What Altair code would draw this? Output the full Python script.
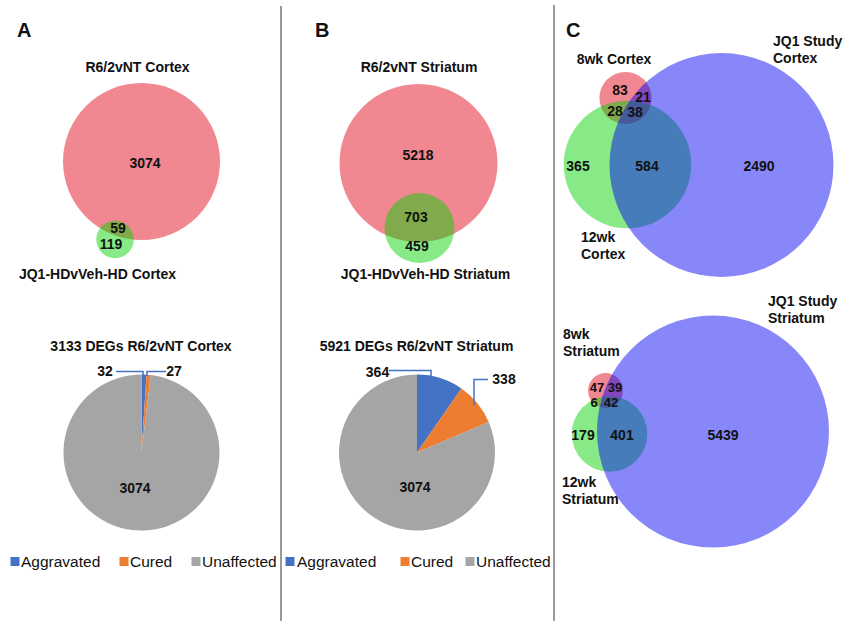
import altair as alt
import pandas as pd

# ---------------- data ----------------
# Two-set Venn regions: [first set only, overlap, second set only]
venn_a_counts = [3074, 59, 119]
venn_b_counts = [5218, 703, 459]
venn_a_sets = ["R6/2vNT Cortex", "JQ1-HDvVeh-HD Cortex"]
venn_b_sets = ["R6/2vNT Striatum", "JQ1-HDvVeh-HD Striatum"]

# Three-set Venn regions, in this order:
# 8wk only, 8wk&JQ1, 8wk&12wk, all three, 12wk only, 12wk&JQ1, JQ1 only
venn_c_top_counts = [83, 21, 28, 38, 365, 584, 2490]
venn_c_bot_counts = [47, 39, 6, 42, 179, 401, 5439]

# Region membership of each set (indices into the region lists)
two_set_members = [[0, 1], [1, 2]]
three_set_members = [[0, 1, 2, 3], [2, 3, 4, 5], [1, 3, 5, 6]]

pie_categories = ["Aggravated", "Cured", "Unaffected"]
pie_cortex = [32, 27, 3074]
pie_striatum = [364, 338, 3074]
pie_titles = ["3133 DEGs R6/2vNT Cortex", "5921 DEGs R6/2vNT Striatum"]

# ---------------- styling / layout ----------------
W, H = 845, 621
FONT = "Liberation Sans"
SET_COLORS_2 = ["#e10014", "#00d200"]
SET_COLORS_3 = ["#e10014", "#00d200", "#0000f5"]
PIE_COLORS = ["#4472c4", "#ed7d31", "#a5a5a5"]
PIE_RADIUS = 78

xs = alt.Scale(domain=[0, W], nice=False, zero=False)
ys = alt.Scale(domain=[0, H], nice=False, zero=False, reverse=True)

# label_fs: font size of the region counts (crowded small circles get smaller text)
venn_layout = {
    "A": dict(centers=[(141.5, 161.5), (115, 239.5)], max_d=157,
              label_pos=[(145, 164), (118, 229), (111, 245)],
              label_fs=[14, 14, 14]),
    "B": dict(centers=[(418.5, 163), (419.5, 228)], max_d=158,
              label_pos=[(418, 156), (416, 218), (417, 247)],
              label_fs=[14, 14, 14]),
    "Ct": dict(centers=[(625.5, 98), (627.5, 164.5), (721.5, 165)], max_d=224,
               label_pos=[(620, 91), (643, 97.5), (615, 111.5), (635, 113),
                          (578, 166.5), (647, 167), (759, 167)],
               label_fs=[14, 14, 14, 14, 14, 14, 14]),
    "Cb": dict(centers=[(605.5, 390.5), (609.5, 434), (713, 431.5)], max_d=232,
               label_pos=[(597, 387.5), (615, 388), (594, 403), (611, 403),
                          (583, 435.5), (622, 435.5), (723, 435.5)],
               label_fs=[13, 13, 13, 13, 14, 14, 14]),
}


def set_totals(counts, members):
    return [sum(counts[i] for i in m) for m in members]


def venn_circles(key, counts, members, colors):
    lay = venn_layout[key]
    totals = set_totals(counts, members)
    df = pd.DataFrame({
        "total": totals,
        "cx": [c[0] for c in lay["centers"]],
        "cy": [c[1] for c in lay["centers"]],
        "col": colors,
        "k": list(range(len(totals))),
    })
    # circle area proportional to set size; largest set fills max_d
    size_scale = alt.Scale(domain=[0, max(totals)], range=[0, lay["max_d"] ** 2],
                           zero=True, nice=False)
    return alt.Chart(df).mark_circle(opacity=0.47).encode(
        x=alt.X("cx:Q", scale=xs, axis=None),
        y=alt.Y("cy:Q", scale=ys, axis=None),
        size=alt.Size("total:Q", scale=size_scale, legend=None),
        fill=alt.Fill("col:N", scale=None),
        order=alt.Order("k:Q"),
    )


layers = []

# separators between panels
sep_df = pd.DataFrame({"x": [281, 554], "y": [6, 5], "y2": [H, H]})
layers.append(alt.Chart(sep_df).mark_rule(color="#9a9a9a", strokeWidth=2).encode(
    x=alt.X("x:Q", scale=xs, axis=None),
    y=alt.Y("y:Q", scale=ys, axis=None),
    y2="y2:Q",
))

layers.append(venn_circles("A", venn_a_counts, two_set_members, SET_COLORS_2))
layers.append(venn_circles("B", venn_b_counts, two_set_members, SET_COLORS_2))
layers.append(venn_circles("Ct", venn_c_top_counts, three_set_members, SET_COLORS_3))
layers.append(venn_circles("Cb", venn_c_bot_counts, three_set_members, SET_COLORS_3))

# pies
pie_centers = [(141.5, 452.5), (417, 452.5)]
pie_rows = []
for p, vals in enumerate([pie_cortex, pie_striatum]):
    for k, (cat, v) in enumerate(zip(pie_categories, vals)):
        pie_rows.append(dict(pie=p, cat=cat, value=v, k=k, col=PIE_COLORS[k],
                             cx=pie_centers[p][0], cy=pie_centers[p][1]))
pie_df = pd.DataFrame(pie_rows)
layers.append(
    alt.Chart(pie_df)
    .transform_joinaggregate(total="sum(value)", groupby=["pie"])
    .transform_window(cum="sum(value)", groupby=["pie"], sort=[alt.SortField("k")],
                      frame=[None, 0])
    .transform_calculate(t0="(datum.cum - datum.value) / datum.total",
                         t1="datum.cum / datum.total")
    .mark_arc(radius=PIE_RADIUS)
    .encode(
        x=alt.X("cx:Q", scale=xs, axis=None),
        y=alt.Y("cy:Q", scale=ys, axis=None),
        theta=alt.Theta("t0:Q", scale=alt.Scale(domain=[0, 1], range=[0, 6.283185307179586])),
        theta2="t1:Q",
        fill=alt.Fill("col:N", scale=None),
    )
)

# leader lines for the small slices
leaders = [
    [(116, 371.5), (143, 371.5), (143, 376)],
    [(147, 376), (147, 371.5), (166, 371.5)],
    [(389, 370.5), (431, 370.5), (431, 378)],
    [(488, 379.5), (474, 379.5), (474, 405)],
]
lead_rows = []
for i, pts in enumerate(leaders):
    for j, (x, y) in enumerate(pts):
        lead_rows.append(dict(id=i, j=j, x=x, y=y))
layers.append(alt.Chart(pd.DataFrame(lead_rows)).mark_line(
    color="#4472c4", strokeWidth=1.5).encode(
    x=alt.X("x:Q", scale=xs, axis=None),
    y=alt.Y("y:Q", scale=ys, axis=None),
    detail="id:N",
    order="j:Q",
))

# legend squares
leg_y = 561.5
legend_sq = [(15, 0), (124, 1), (196, 2), (290, 0), (405, 1), (470, 2)]
leg_df = pd.DataFrame({
    "x": [s[0] for s in legend_sq],
    "y": [leg_y] * len(legend_sq),
    "col": [PIE_COLORS[s[1]] for s in legend_sq],
})
layers.append(alt.Chart(leg_df).mark_square(opacity=1).encode(
    x=alt.X("x:Q", scale=xs, axis=None),
    y=alt.Y("y:Q", scale=ys, axis=None),
    fill=alt.Fill("col:N", scale=None),
    size=alt.value(81),
))

# ---------------- text ----------------
texts = []  # x, y, label, font size, align, weight


def add(x, y, t, fs=14, align="center", weight="bold"):
    texts.append(dict(x=x, y=y, label=t, fs=fs, align=align, weight=weight))


# panel letters
add(17, 30.5, "A", 20, "left")
add(315, 30.5, "B", 20, "left")
add(566, 30.5, "C", 20, "left")

# Venn set names
add(137.5, 67.5, venn_a_sets[0])
add(97.5, 275, venn_a_sets[1])
add(419, 67.5, venn_b_sets[0])
add(425.5, 275, venn_b_sets[1])
add(614, 60, "8wk Cortex")
add(773, 42, "JQ1 Study", align="left")
add(773, 58.5, "Cortex", align="left")
add(581, 238, "12wk", align="left")
add(581, 255, "Cortex", align="left")
add(768, 302, "JQ1 Study", align="left")
add(768, 318.5, "Striatum", align="left")
add(563, 335, "8wk", align="left")
add(563, 352, "Striatum", align="left")
add(562, 483, "12wk", align="left")
add(562, 499.5, "Striatum", align="left")

# Venn region counts
for key, counts in (("A", venn_a_counts), ("B", venn_b_counts),
                    ("Ct", venn_c_top_counts), ("Cb", venn_c_bot_counts)):
    lay = venn_layout[key]
    for (x, y), fs, c in zip(lay["label_pos"], lay["label_fs"], counts):
        add(x, y, str(c), fs)

# pie titles and values
add(141, 347, pie_titles[0])
add(416.5, 347, pie_titles[1])
add(105, 372, str(pie_cortex[0]))
add(174, 372, str(pie_cortex[1]))
add(135, 488.5, str(pie_cortex[2]))
add(377.5, 373, str(pie_striatum[0]))
add(504, 379.5, str(pie_striatum[1]))
add(415, 487.5, str(pie_striatum[2]))

# legend labels
leg_text_x = [21, 130, 202, 297, 411, 476]
for x, s in zip(leg_text_x, legend_sq):
    add(x, leg_y + 0.5, pie_categories[s[1]], 15.5, "left", "normal")

text_df = pd.DataFrame(texts)
for (align, weight, fs), sub in text_df.groupby(["align", "weight", "fs"]):
    layers.append(alt.Chart(sub[["x", "y", "label"]].reset_index(drop=True)).mark_text(
        align=align, baseline="middle", font=FONT, fontWeight=weight,
        fontSize=float(fs), color="#111111"
    ).encode(
        x=alt.X("x:Q", scale=xs, axis=None),
        y=alt.Y("y:Q", scale=ys, axis=None),
        text=alt.Text("label:N"),
    ))

chart = (
    alt.layer(*layers)
    .resolve_scale(size="independent")
    .properties(width=W, height=H, autosize=alt.AutoSizeParams(type="none"),
                padding={"left": 0, "right": 0, "top": 0, "bottom": 0},
                background="white")
    .configure_view(strokeWidth=0)
)

chart.save("out.html", embed_options={"renderer": "svg", "actions": False})
